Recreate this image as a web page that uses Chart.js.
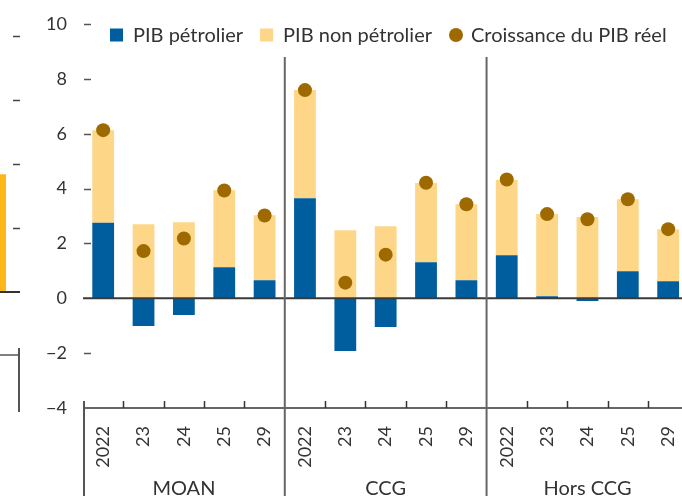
<!DOCTYPE html>
<html>
<head>
<meta charset="utf-8">
<script src="https://cdn.jsdelivr.net/npm/chart.js@4"></script>
<style>
html,body{margin:0;padding:0;overflow:hidden;background:#fff;width:682px;height:498px;}
#c0{position:absolute;left:-40px;top:0;}
#c1{position:absolute;left:0;top:0;}
</style>
</head>
<body>
<canvas id="c0" width="60" height="498"></canvas>
<canvas id="c1" width="700" height="498"></canvas>
<script>
// ---- Data (main chart) ----
const categories = ['2022','23','24','25','29','2022','23','24','25','29','2022','23','24','25','29'];
const groups = ['MOAN','CCG','Hors CCG'];
const groupSize = 5;
const oilGDP    = [2.75,-1.01,-0.61,1.13,0.66, 3.65,-1.92,-1.05,1.31,0.66, 1.57,0.07,-0.10,0.99,0.62];
const nonOilGDP = [3.38, 2.70, 2.77,2.81,2.37, 3.94, 2.48, 2.63,2.89,2.77, 2.74,3.00, 2.96,2.62,1.90];
const realGrowth= [6.13, 1.72, 2.18,3.93,3.02, 7.59, 0.57, 1.59,4.21,3.43, 4.33,3.07, 2.88,3.61,2.52];
const seriesLabels = ['PIB pétrolier','PIB non pétrolier','Croissance du PIB réel'];
const yMin = -4, yMax = 10, yStep = 2;

// ---- Data (neighbouring panel, only its right edge is visible) ----
const leftCategories = [''];
const leftValues = [1.84];
const leftMin = -1, leftMax = 4;

const FONT = 'Lato, "Noto Sans", sans-serif';
const TXT = '#333';
const BLUE = '#005E9E', YELLOW = '#FDD687', BROWN = '#9E6A00', ORANGE = '#FDB71A';

function seg(ctx,x1,y1,x2,y2){ctx.beginPath();ctx.moveTo(x1,y1);ctx.lineTo(x2,y2);ctx.stroke();}
const fmt = v => v < 0 ? '\u2212' + Math.abs(v) : String(v);

const decor = {
  id:'decor',
  afterDatasetsDraw(chart){
    const {ctx, chartArea:a, scales:{x,y}} = chart;
    const step = x.getPixelForValue(1) - x.getPixelForValue(0);
    const bound = i => x.getPixelForValue(i) - step/2;
    ctx.save();
    ctx.lineCap = 'butt';
    // y tick dashes (inside)
    ctx.strokeStyle = '#555'; ctx.lineWidth = 1.5;
    y.ticks.forEach(t => {
      if (t.value === 0 || t.value === yMin) return;
      const py = Math.round(y.getPixelForValue(t.value)) + 0.5;
      seg(ctx, a.left + 1, py, a.left + 8, py);
    });
    // zero line
    const y0 = y.getPixelForValue(0);
    ctx.strokeStyle = '#3a3a3a'; ctx.lineWidth = 2;
    seg(ctx, a.left, y0, a.right, y0);
    // bottom axis
    ctx.strokeStyle = '#333'; ctx.lineWidth = 1.5;
    seg(ctx, a.left, a.bottom, a.right, a.bottom);
    // category ticks (upward)
    for (let i = 1; i < categories.length; i++) {
      if (i % groupSize === 0) continue;
      const px = Math.round(bound(i)) + 0.5;
      seg(ctx, px, a.bottom, px, a.bottom - 7);
    }
    // left boundary
    ctx.strokeStyle = '#555'; ctx.lineWidth = 2;
    seg(ctx, bound(0) + 1, a.bottom - 7, bound(0) + 1, 496);
    // group separators
    ctx.strokeStyle = '#666'; ctx.lineWidth = 2;
    for (let g = 1; g < groups.length; g++) {
      const px = bound(g * groupSize);
      seg(ctx, px, 57, px, 496);
    }
    // group labels
    ctx.fillStyle = TXT; ctx.font = '20px ' + FONT;
    ctx.textAlign = 'center'; ctx.textBaseline = 'middle';
    groups.forEach((g, k) => {
      const cx = (bound(k * groupSize) + bound(k * groupSize) + groupSize * step) / 2;
      ctx.fillText(g, cx, 489);
    });
    ctx.restore();
  },
  afterDraw(chart){
    const ctx = chart.ctx;
    const ds = chart.data.datasets;
    ctx.save();
    ctx.font = '20px ' + FONT;
    ctx.textBaseline = 'middle'; ctx.textAlign = 'left';
    let x = 110; const cy = 35;
    ds.forEach((d, i) => {
      if (d.type === 'line') {
        ctx.fillStyle = d.pointBackgroundColor;
        ctx.beginPath(); ctx.arc(x + 7, cy, 7, 0, Math.PI * 2); ctx.fill();
        x += 14 + 8;
      } else {
        ctx.fillStyle = d.backgroundColor;
        ctx.fillRect(x, cy - 6.5, 13, 13);
        x += 13 + 10;
      }
      ctx.fillStyle = TXT;
      ctx.fillText(d.label, x, cy + 1);
      x += ctx.measureText(d.label).width + 17;
    });
    ctx.restore();
  }
};

new Chart(document.getElementById('c1'), {
  data: {
    labels: categories,
    datasets: [
      {type:'bar', label:seriesLabels[0], data:oilGDP, backgroundColor:BLUE, stack:'bars', order:2,
       barPercentage:0.54, categoryPercentage:1},
      {type:'bar', label:seriesLabels[1], data:nonOilGDP, backgroundColor:YELLOW, stack:'bars', order:2,
       barPercentage:0.54, categoryPercentage:1},
      {type:'line', label:seriesLabels[2], data:realGrowth, stack:'dots', showLine:false, order:1,
       pointRadius:7, pointHoverRadius:7, pointBackgroundColor:BROWN, pointBorderWidth:0, borderColor:BROWN}
    ]
  },
  options: {
    responsive:false, animation:false, devicePixelRatio:1,
    layout:{padding:{top:24, right:7, left:0, bottom:0}},
    plugins:{legend:{display:false}, tooltip:{enabled:false}},
    scales:{
      x:{stacked:true, offset:true, grid:{display:false}, border:{display:false},
         ticks:{autoSkip:false, maxRotation:90, minRotation:90, padding:10, color:TXT, font:{family:FONT, size:18}},
         afterFit(s){ s.height = 90; }},
      y:{stacked:true, min:yMin, max:yMax, grid:{display:false}, border:{display:false},
         ticks:{stepSize:yStep, padding:8, color:TXT, font:{family:FONT, size:18}, callback:v => fmt(v)},
         afterFit(s){ s.width = 83; }}
    }
  },
  plugins:[decor]
});

// neighbouring panel (cropped at the left edge)
const leftDecor = {
  id:'leftDecor',
  afterDatasetsDraw(chart){
    const {ctx, chartArea:a, scales:{y}} = chart;
    ctx.save();
    ctx.strokeStyle = '#444'; ctx.lineWidth = 1.5;
    y.ticks.forEach(t => {
      if (t.value <= 0) return;
      const py = Math.round(y.getPixelForValue(t.value)) + 0.5;
      seg(ctx, a.right - 7, py, a.right, py);
    });
    ctx.strokeStyle = '#333'; ctx.lineWidth = 2;
    const y0 = y.getPixelForValue(0);
    seg(ctx, a.left, y0, a.right, y0);
    ctx.strokeStyle = '#555'; ctx.lineWidth = 1.5;
    seg(ctx, a.left, a.bottom - 1, a.right, a.bottom - 1);
    ctx.lineWidth = 2;
    seg(ctx, a.right - 1, a.bottom - 8, a.right - 1, 412);
    ctx.restore();
  }
};
new Chart(document.getElementById('c0'), {
  type:'bar',
  data:{labels:leftCategories, datasets:[{data:leftValues, backgroundColor:ORANGE, barPercentage:0.44, categoryPercentage:1}]},
  options:{
    responsive:false, animation:false, devicePixelRatio:1,
    layout:{padding:{top:36, right:0, left:10, bottom:142}},
    plugins:{legend:{display:false}, tooltip:{enabled:false}},
    scales:{
      x:{display:false, offset:true},
      y:{display:false, min:leftMin, max:leftMax, ticks:{stepSize:1}}
    }
  },
  plugins:[leftDecor]
});
</script>
</body>
</html>
